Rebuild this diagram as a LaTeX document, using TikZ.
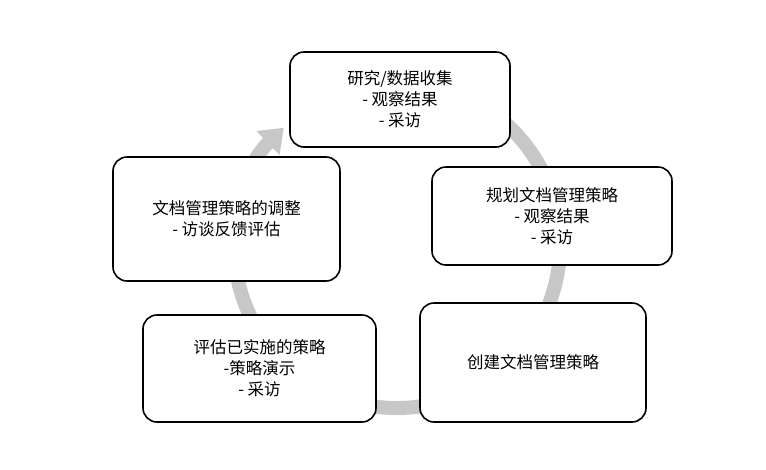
\documentclass[tikz,border=0pt]{standalone}
\usepackage{fontspec}
\setmainfont{Noto Sans CJK SC}
\usetikzlibrary{arrows.meta}
\begin{document}
\begin{tikzpicture}[x=1pt,y=-1pt,
  box/.style={draw=black,line width=1.6pt,rounded corners=14pt,fill=white,align=center,font=\fontsize{16.5}{21}\selectfont,inner sep=0pt}]
\useasboundingbox (0,0) rectangle (766,469);
\draw[line width=14pt,draw=black!22,-{Triangle[width=32pt,length=22pt]}]
  ([shift={(-100:163)}]397,245) arc[start angle=-100,end angle=226,radius=163];
\node[box,minimum width=220pt,minimum height=95pt] (a) at (400,99.5) {研究/数据收集\\- 观察结果\\- 采访};
\node[box,minimum width=240pt,minimum height=98pt] (b) at (552,216) {规划文档管理策略\\- 观察结果\\- 采访};
\node[box,minimum width=226pt,minimum height=119pt] (c) at (533,362.5) {创建文档管理策略};
\node[box,minimum width=233pt,minimum height=107pt] (d) at (259.5,368.5) {评估已实施的策略\\-策略演示\\- 采访};
\node[box,minimum width=227pt,minimum height=124pt] (e) at (226.5,219) {文档管理策略的调整\\- 访谈反馈评估};
\end{tikzpicture}
\end{document}
